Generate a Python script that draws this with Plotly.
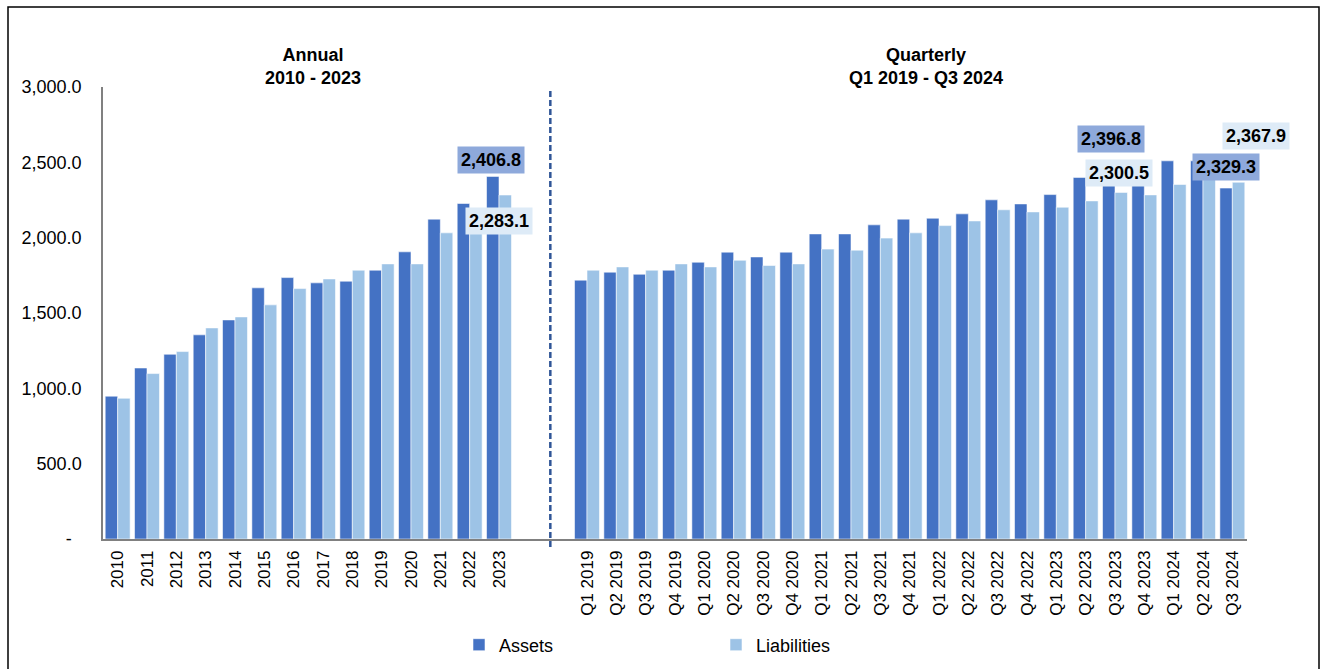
import plotly.graph_objects as go

# ---- data ----
years = ["2010", "2011", "2012", "2013", "2014", "2015", "2016",
         "2017", "2018", "2019", "2020", "2021", "2022", "2023"]
annual_assets = [948, 1135, 1226, 1355, 1454, 1667, 1735,
                 1700, 1711, 1784, 1906, 2123, 2227, 2406.8]
annual_liabilities = [934, 1098, 1244, 1401, 1474, 1554, 1662,
                      1726, 1784, 1826, 1826, 2032, 2140, 2283.1]

quarters = ["Q1 2019", "Q2 2019", "Q3 2019", "Q4 2019",
            "Q1 2020", "Q2 2020", "Q3 2020", "Q4 2020",
            "Q1 2021", "Q2 2021", "Q3 2021", "Q4 2021",
            "Q1 2022", "Q2 2022", "Q3 2022", "Q4 2022",
            "Q1 2023", "Q2 2023", "Q3 2023", "Q4 2023",
            "Q1 2024", "Q2 2024", "Q3 2024"]
quarterly_assets = [1718, 1771, 1757, 1784, 1837, 1904, 1872, 1904,
                    2025, 2025, 2085, 2123, 2129, 2158, 2251, 2224,
                    2286, 2400, 2396.8, 2420, 2510, 2510, 2329.3]
quarterly_liabilities = [1784, 1806, 1784, 1826, 1806, 1850, 1815, 1826,
                         1924, 1917, 1997, 2032, 2080, 2111, 2185, 2171,
                         2202, 2244, 2300.5, 2284, 2353, 2400, 2367.9]

y_ticks = [0, 500, 1000, 1500, 2000, 2500, 3000]

# ---- layout helpers ----
W, H = 1322, 669
ML, MR, MT, MB = 103, 75, 87, 130
PW, PH = W - ML - MR, H - MT - MB

def px_x(px):
    return (px - ML) / PW

def px_y(py):
    return (H - MB - py) / PH

GAP = 2
ann_x = list(range(len(years)))
q_x = list(range(len(years) + GAP, len(years) + GAP + len(quarters)))
x_all = ann_x + q_x
labels_all = years + quarters

FONT = "Liberation Sans, Arial, sans-serif"
C_ASSETS = "#4472C4"
C_LIAB = "#9DC3E6"

fig = go.Figure()
fig.add_trace(go.Bar(
    name="Assets", x=x_all, y=annual_assets + quarterly_assets,
    marker=dict(color=C_ASSETS, line=dict(color="rgba(255,255,255,0.55)", width=1)),
))
fig.add_trace(go.Bar(
    name="Liabilities", x=x_all, y=annual_liabilities + quarterly_liabilities,
    marker=dict(color=C_LIAB, line=dict(color="rgba(255,255,255,0.55)", width=1)),
))

def tick_fmt(v):
    return "-\u00a0\u00a0" if v == 0 else f"{v:,.1f}"

fig.update_layout(
    width=W, height=H,
    margin=dict(l=ML, r=MR, t=MT, b=MB, pad=0, autoexpand=False),
    paper_bgcolor="white", plot_bgcolor="white",
    barmode="group", bargap=0.15, bargroupgap=0,
    font=dict(family=FONT, size=18, color="black"),
    showlegend=True,
    legend=dict(orientation="h", x=px_x(459), y=px_y(645), xanchor="left", yanchor="middle",
                entrywidth=212, entrywidthmode="pixels",
                font=dict(size=18), itemwidth=30, bgcolor="rgba(0,0,0,0)"),
    xaxis=dict(range=[-0.5, len(x_all) + GAP - 0.5], tickmode="array",
               tickvals=x_all, ticktext=labels_all, tickangle=-90,
               showline=True, linecolor="#808080", linewidth=1.5,
               showgrid=False, zeroline=False, ticks="", automargin=False,
               ticklabelstandoff=3,
               tickfont=dict(size=17, color="black")),
    yaxis=dict(range=[0, 3000], tickmode="array", tickvals=y_ticks,
               ticktext=[tick_fmt(v) for v in y_ticks],
               showline=True, linecolor="#808080", linewidth=1.5,
               showgrid=False, zeroline=False, ticks="", automargin=False,
               ticklabelstandoff=16,
               tickfont=dict(size=18, color="black")),
)

# divider between annual and quarterly sections
fig.add_shape(type="line", xref="x", yref="paper",
              x0=len(years) + 0.75, x1=len(years) + 0.75,
              y0=px_y(547), y1=px_y(90),
              line=dict(color="#2F5597", width=2.5, dash="6px,3px"))

# outer frame
fig.add_shape(type="rect", xref="paper", yref="paper",
              x0=px_x(8), x1=px_x(1319), y0=px_y(675), y1=px_y(7),
              line=dict(color="black", width=1.5), fillcolor="rgba(0,0,0,0)", layer="above")

# section titles
fig.add_annotation(xref="paper", yref="paper", x=px_x(313), y=px_y(66),
                   xanchor="center", yanchor="middle",
                   text="<b>Annual</b><br><b>2010 - 2023</b>", showarrow=False,
                   font=dict(size=18, color="black"), align="center")
fig.add_annotation(xref="paper", yref="paper", x=px_x(926), y=px_y(67),
                   xanchor="center", yanchor="middle",
                   text="<b>Quarterly</b><br><b>Q1 2019 - Q3 2024</b>", showarrow=False,
                   font=dict(size=18, color="black"), align="center")

# value call-outs
BG_A = "#8EA9DB"
BG_L = "#DEEBF7"
callouts = [
    (ann_x[13], annual_assets[13], -8, 16, BG_A),
    (ann_x[13], annual_liabilities[13], 0, -26, BG_L),
    (q_x[18], quarterly_assets[18], -4, 39, BG_A),
    (q_x[18], quarterly_liabilities[18], 4, 19, BG_L),
    (q_x[22], quarterly_assets[22], -6, 21, BG_A),
    (q_x[22], quarterly_liabilities[22], 24, 46, BG_L),
]
for xv, yv, dx, dy, bg in callouts:
    fig.add_annotation(x=xv, y=yv, xref="x", yref="y", text=f"<b>{yv:,.1f}</b>",
                       showarrow=False, xshift=dx, yshift=dy,
                       xanchor="center", yanchor="middle",
                       bgcolor=bg, borderpad=3, font=dict(size=18, color="black"))

fig.write_html("out.html")
